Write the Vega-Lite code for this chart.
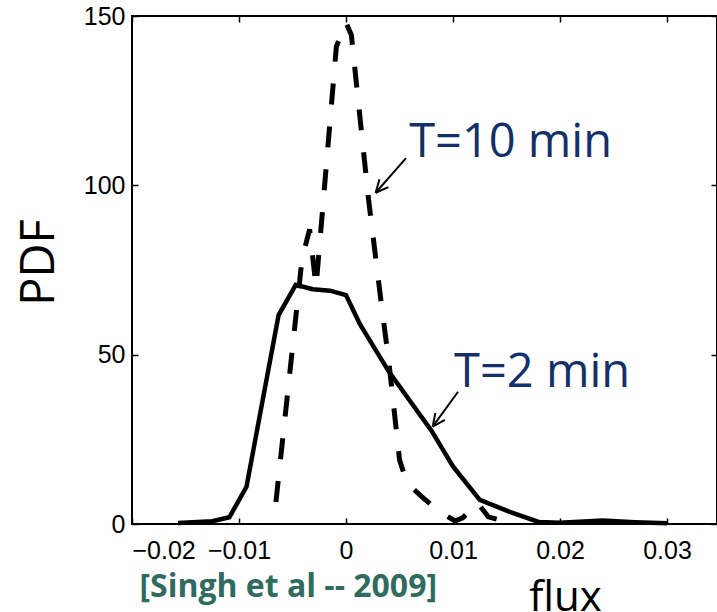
{
  "$schema": "https://vega.github.io/schema/vega-lite/v6.json",
  "width": 585,
  "height": 508,
  "autosize": "none",
  "padding": {"left": 132, "top": 16, "right": 0, "bottom": 88},
  "background": "white",
  "view": {"stroke": "black", "strokeWidth": 2},
  "config": {
    "axis": {
      "grid": false,
      "domain": false,
      "tickColor": "black",
      "tickWidth": 1.5,
      "tickSize": -6,
      "labelFont": "Liberation Sans",
      "labelFontSize": 25,
      "labelColor": "black",
      "titleColor": "black",
      "titleFont": "Open Sans",
      "titleFontWeight": "normal"
    }
  },
  "datasets": {
    "solid": [
      {"flux": -0.0157, "pdf": 0.3},
      {"flux": -0.0125, "pdf": 0.8},
      {"flux": -0.0109, "pdf": 2},
      {"flux": -0.0093, "pdf": 11},
      {"flux": -0.0063, "pdf": 61.7},
      {"flux": -0.0047, "pdf": 70.6},
      {"flux": -0.0031, "pdf": 69.3},
      {"flux": -0.0015, "pdf": 68.9},
      {"flux": 0.0, "pdf": 67.6},
      {"flux": 0.0013, "pdf": 59},
      {"flux": 0.0040, "pdf": 45},
      {"flux": 0.0080, "pdf": 27.5},
      {"flux": 0.0100, "pdf": 17},
      {"flux": 0.0125, "pdf": 7.1},
      {"flux": 0.0153, "pdf": 3.6},
      {"flux": 0.0180, "pdf": 0.6},
      {"flux": 0.0200, "pdf": 0.4},
      {"flux": 0.0240, "pdf": 1.0},
      {"flux": 0.0270, "pdf": 0.5},
      {"flux": 0.0300, "pdf": 0.2}
    ],
    "dashed": [
      {"flux": -0.00655, "pdf": 6.5},
      {"flux": -0.0041, "pdf": 78.5},
      {"flux": -0.0034, "pdf": 87},
      {"flux": -0.0028, "pdf": 70},
      {"flux": -0.0009, "pdf": 141},
      {"flux": 0.0, "pdf": 148},
      {"flux": 0.0005, "pdf": 144.4},
      {"flux": 0.0021, "pdf": 96},
      {"flux": 0.0033, "pdf": 65},
      {"flux": 0.0040, "pdf": 48},
      {"flux": 0.0050, "pdf": 19},
      {"flux": 0.0057, "pdf": 12.1},
      {"flux": 0.0072, "pdf": 7.7},
      {"flux": 0.0088, "pdf": 3.5},
      {"flux": 0.0102, "pdf": 0.9},
      {"flux": 0.0109, "pdf": 1.8},
      {"flux": 0.0123, "pdf": 6.2},
      {"flux": 0.0133, "pdf": 2.1},
      {"flux": 0.0150, "pdf": 0.6},
      {"flux": 0.0158, "pdf": 0}
    ],
    "arrows": [
      {"x": 0.00561, "y": 108.06, "x2": 0.00277, "y2": 97.82},
      {"x": 0.00396, "y": 99.47, "x2": 0.00277, "y2": 97.82},
      {"x": 0.00313, "y": 101.8, "x2": 0.00277, "y2": 97.82},
      {"x": 0.01047, "y": 39.06, "x2": 0.0081, "y2": 28.73},
      {"x": 0.00924, "y": 30.74, "x2": 0.0081, "y2": 28.73},
      {"x": 0.00835, "y": 32.77, "x2": 0.0081, "y2": 28.73}
    ],
    "labels": [
      {"x": 0.0059, "y": 108.5, "label": "T=10 min"},
      {"x": 0.0101, "y": 40.5, "label": "T=2 min"}
    ],
    "cite": [
      {"x": -0.0054, "y": -21.6, "label": "[Singh et al -- 2009]"}
    ]
  },
  "resolve": {"axis": {"x": "independent", "y": "independent"}},
  "layer": [
    {
      "data": {"name": "solid"},
      "mark": {"type": "line", "color": "black", "strokeWidth": 4.5, "strokeJoin": "miter"},
      "encoding": {
        "x": {
          "field": "flux", "type": "quantitative",
          "scale": {"domain": [-0.02, 0.03467], "nice": false, "zero": false},
          "axis": {
            "orient": "bottom",
            "values": [-0.02, -0.01, 0, 0.01, 0.02, 0.03],
            "format": ".2~f",
            "labelPadding": 20,
            "labelOverlap": false,
            "title": "flux",
            "titleFontSize": 42,
            "titleX": 433,
            "titleY": 86,
            "titleAlign": "center",
            "titleBaseline": "alphabetic"
          }
        },
        "y": {
          "field": "pdf", "type": "quantitative",
          "scale": {"domain": [0, 150], "nice": false},
          "axis": {
            "orient": "left",
            "values": [0, 50, 100, 150],
            "labelPadding": 13,
            "labelOverlap": false,
            "title": "PDF",
            "titleFontSize": 47,
            "titleAngle": -90,
            "titleX": -79,
            "titleY": 246,
            "titleAlign": "center",
            "titleBaseline": "alphabetic"
          }
        }
      }
    },
    {
      "data": {"name": "dashed"},
      "mark": {"type": "line", "color": "black", "strokeWidth": 5, "strokeDash": [21, 22]},
      "encoding": {
        "x": {
          "field": "flux", "type": "quantitative",
          "axis": {"orient": "top", "values": [-0.02, -0.01, 0, 0.01, 0.02, 0.03], "labels": false, "title": null}
        },
        "y": {
          "field": "pdf", "type": "quantitative",
          "axis": {"orient": "right", "values": [0, 50, 100, 150], "labels": false, "title": null}
        }
      }
    },
    {
      "data": {"name": "arrows"},
      "mark": {"type": "rule", "color": "black", "strokeWidth": 2},
      "encoding": {
        "x": {"field": "x", "type": "quantitative", "axis": null},
        "y": {"field": "y", "type": "quantitative", "axis": null},
        "x2": {"field": "x2"},
        "y2": {"field": "y2"}
      }
    },
    {
      "data": {"name": "labels"},
      "mark": {"type": "text", "align": "left", "baseline": "alphabetic", "font": "Open Sans", "fontSize": 47, "color": "#14306a"},
      "encoding": {
        "x": {"field": "x", "type": "quantitative", "axis": null},
        "y": {"field": "y", "type": "quantitative", "axis": null},
        "text": {"field": "label"}
      }
    },
    {
      "data": {"name": "cite"},
      "mark": {"type": "text", "align": "center", "baseline": "alphabetic", "font": "Open Sans", "fontSize": 32, "fontWeight": "bold", "color": "#2f6b5f"},
      "encoding": {
        "x": {"field": "x", "type": "quantitative", "axis": null},
        "y": {"field": "y", "type": "quantitative", "axis": null},
        "text": {"field": "label"}
      }
    }
  ]
}
